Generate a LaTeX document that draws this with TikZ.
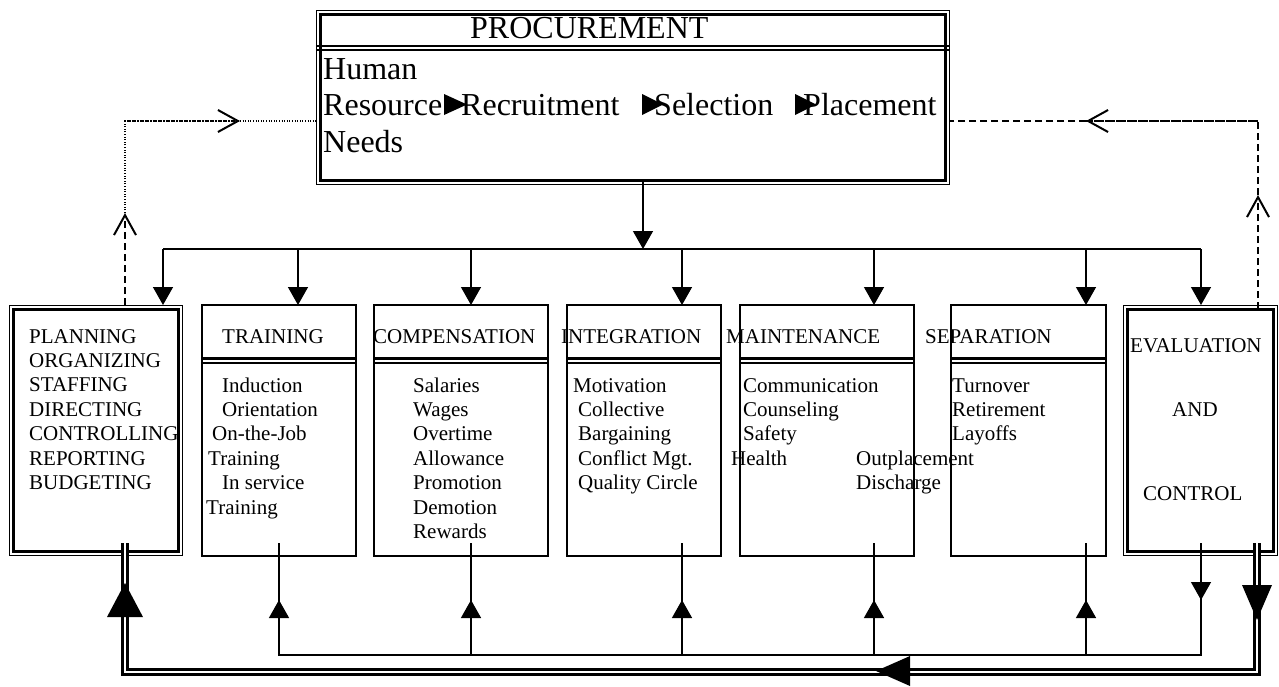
\documentclass[tikz,border=0pt]{standalone}
\usepackage{fontspec}
\setmainfont{Liberation Serif}
\usetikzlibrary{arrows.meta}
\begin{document}
\begin{tikzpicture}[x=1pt,y=-1pt,line join=miter]
\tikzset{
  ln/.style={line width=1.4pt},
  sbox/.style={draw,line width=1.6pt,rectangle,inner sep=0pt},
  obox/.style={draw,line width=1.3pt,rectangle,inner sep=0pt},
  ibox/.style={line width=2.4pt},
  sm/.style={font=\fontsize{21}{24}\selectfont,inner sep=0pt,anchor=base west},
  bg/.style={font=\fontsize{32}{36}\selectfont,inner sep=0pt,anchor=base west},
  tri/.style={-{Triangle[length=18pt,width=20pt]}},
  dashln/.style={line width=1.4pt,dash pattern=on 7pt off 4pt},
  dotln/.style={line width=1.4pt,dash pattern=on 1pt off 1.6pt},
  barb/.style={-{Straight Barb[length=20pt,width=22pt,line width=2pt]}},
  dbl/.style={double,line width=3pt,double distance=1.8pt}
}
\useasboundingbox (0,0) rectangle (1279,686);

% ---------- boxes ----------
\node[obox,minimum width=633pt,minimum height=174pt] (proc) at (633,97.5) {};
\draw[ibox] ([shift={(4.5,4.5)}]proc.north west) rectangle ([shift={(-4.5,-4.5)}]proc.south east);
\node[obox,minimum width=173pt,minimum height=250pt] (pln) at (96,430.5) {};
\draw[ibox] ([shift={(4.5,4.5)}]pln.north west) rectangle ([shift={(-4.5,-4.5)}]pln.south east);
\node[sbox,minimum width=154pt,minimum height=251pt] (trn) at (279,430.5) {};
\node[sbox,minimum width=174pt,minimum height=251pt] (cmp) at (461,430.5) {};
\node[sbox,minimum width=154pt,minimum height=251pt] (itg) at (644,430.5) {};
\node[sbox,minimum width=174pt,minimum height=251pt] (mnt) at (827,430.5) {};
\node[sbox,minimum width=155pt,minimum height=251pt] (sep) at (1028.5,430.5) {};
\node[obox,minimum width=154pt,minimum height=250pt] (evl) at (1200.5,430.5) {};
\draw[ibox] ([shift={(4.5,4.5)}]evl.north west) rectangle ([shift={(-4.5,-4.5)}]evl.south east);

% dividers
\foreach \b in {trn,cmp,itg,mnt,sep}{
  \draw[line width=2.8pt] (\b.west |- 0,358.7) -- (\b.east |- 0,358.7);
  \draw[line width=1.8pt] (\b.west |- 0,363) -- (\b.east |- 0,363);
}
\draw[line width=2.5pt] (proc.west |- 0,46) -- (proc.east |- 0,46);
\draw[line width=1.5pt] (proc.west |- 0,50) -- (proc.east |- 0,50);

% ---------- procurement text ----------
\node[bg] (ptitle) at (470,38) {PROCUREMENT};
\node[bg] (phuman) at (323,79) {Human};
\node[bg] (pres) at (323,115) {Resource};
\node[bg] (prec) at (461,115) {Recruitment};
\node[bg] (psel) at (654,115) {Selection};
\node[bg] (pplc) at (803,115) {Placement};
\node[bg] (pneeds) at (323,152) {Needs};
\fill (444,94) -- (467,104.5) -- (444,115) -- cycle;
\fill (642,94) -- (663,104.5) -- (642,115) -- cycle;
\fill (795,94) -- (816,104.5) -- (795,115) -- cycle;

% ---------- box texts ----------
\foreach \t [count=\i from 0] in {PLANNING,ORGANIZING,STAFFING,DIRECTING,CONTROLLING,REPORTING,BUDGETING}
  \node[sm] (pl\i) at (29,343+24.4*\i) {\t};

\node[sm] (trt) at (222,343) {TRAINING};
\node[sm] (tr0) at (222,392) {Induction};
\node[sm] (tr1) at (222,416.4) {Orientation};
\node[sm] (tr2) at (212,440.8) {On-the-Job};
\node[sm] (tr3) at (208,465.2) {Training};
\node[sm] (tr4) at (222,489.6) {In service};
\node[sm] (tr5) at (206,514) {Training};

\node[sm] (cmt) at (373,343) {COMPENSATION};
\foreach \t [count=\i from 0] in {Salaries,Wages,Overtime,Allowance,Promotion,Demotion,Rewards}
  \node[sm] (cm\i) at (413,392+24.4*\i) {\t};

\node[sm] (itt) at (561,343) {INTEGRATION};
\node[sm] (it0) at (573,392) {Motivation};
\foreach \t [count=\i from 1] in {Collective,Bargaining,Conflict Mgt.,Quality Circle}
  \node[sm] (it\i) at (578,392+24.4*\i) {\t};

\node[sm] (mnt0t) at (726,343) {MAINTENANCE};
\node[sm] (mn0) at (743,392) {Communication};
\node[sm] (mn1) at (743,416.4) {Counseling};
\node[sm] (mn2) at (743,440.8) {Safety};
\node[sm] (mn3) at (731,465.2) {Health};
\node[sm] (mn4) at (856,465.2) {Outplacement};
\node[sm] (mn5) at (856,489.6) {Discharge};

\node[sm] (spt) at (925,343) {SEPARATION};
\node[sm] (sp0) at (952,392) {Turnover};
\node[sm] (sp1) at (952,416.4) {Retirement};
\node[sm] (sp2) at (952,440.8) {Layoffs};

\node[sm] (ev0) at (1130,352) {EVALUATION};
\node[sm] (ev1) at (1172,416) {AND};
\node[sm] (ev2) at (1143,500) {CONTROL};

% ---------- top distribution ----------
\coordinate (pout) at (643,181);
\coordinate (bus) at (643,249);
\draw[ln,tri] (pout) -- (bus);
\draw[ln] (163,249) -- (1201,249);
\foreach \x in {163,298,471,682,874,1086,1201}
  \draw[ln,tri] (\x,249) -- (\x,305);

% ---------- feedback dashed / dotted ----------
\coordinate (plTop) at (125,305);
\coordinate (plA) at (125,213);
\coordinate (plC) at (125,121);
\coordinate (plB) at (240,121);
\coordinate (prL) at (316,121);
\draw[dashln,barb] (plTop) -- (plA);
\draw[dotln] (plA) -- (plC) -- (plB);
\draw[dotln,barb] (plC) -- (plB);
\draw[dotln] (plB) -- (prL);

\coordinate (evTop) at (1258,309);
\coordinate (evA) at (1258,195);
\coordinate (evC) at (1258,121);
\coordinate (evB) at (1086,121);
\coordinate (prR) at (950,121);
\draw[dashln,barb] (evTop) -- (evA);
\draw[dashln] (evA) -- (evC) -- (evB);
\draw[dashln,barb] (evC) -- (evB);
\draw[dashln] (evB) -- (prR);

% ---------- bottom thin feedback ----------
\draw[ln] (1201,543) -- (1201,655) -- (279,655) -- (279,543);
\foreach \x in {471,682,874,1086}
  \draw[ln] (\x,543) -- (\x,655);
\foreach \x in {279,471,682,874,1086}
  \draw[ln,tri] (\x,655) -- (\x,600);
\draw[ln,tri] (1201,560) -- (1201,600);

% ---------- bottom double feedback ----------
\draw[dbl] (1257,543) -- (1257,672) -- (125,672) -- (125,543);
\fill (1257,620) -- (1242,585) -- (1272,585) -- cycle;
\fill (876,671) -- (910,656) -- (910,686) -- cycle;
\fill (125,583) -- (107,617) -- (143,617) -- cycle;
\end{tikzpicture}
\end{document}
